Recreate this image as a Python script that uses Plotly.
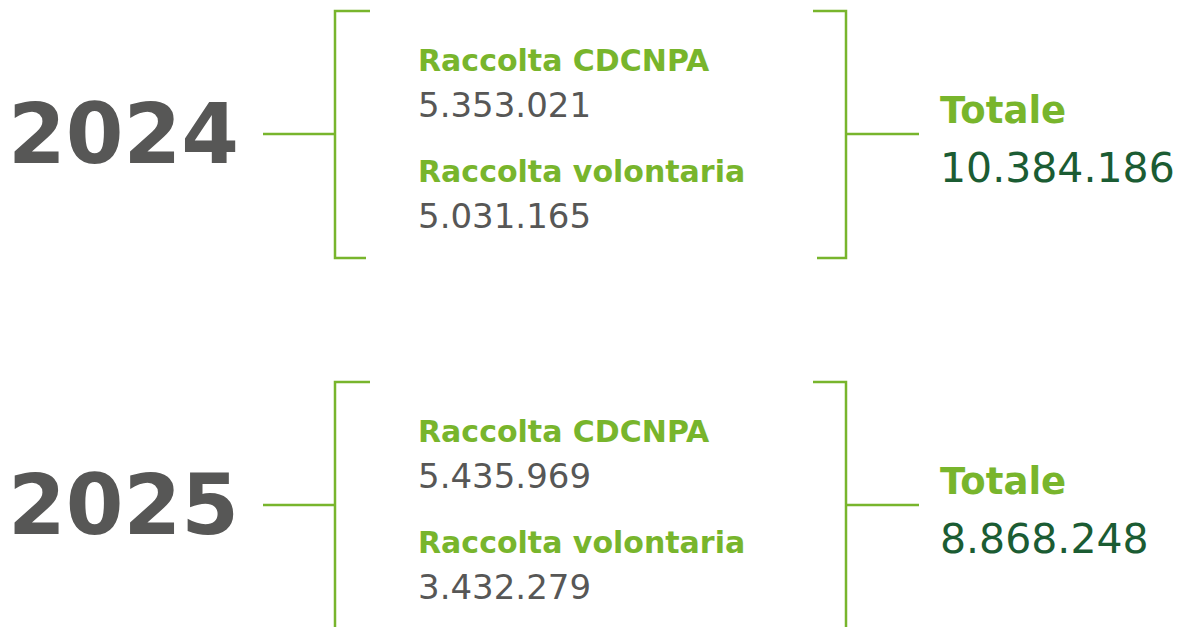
import plotly.graph_objects as go

# data
years = ['2024', '2025']
label_cdcnpa = 'Raccolta CDCNPA'
label_vol = 'Raccolta volontaria'
label_tot = 'Totale'
raccolta_cdcnpa = ['5.353.021', '5.435.969']
raccolta_volontaria = ['5.031.165', '3.432.279']
totale = ['10.384.186', '8.868.248']

green = '#78b52c'
dark_green = '#1b5c33'
grey = '#575756'
font = 'DejaVu Sans'

W, H = 1179, 627
row_top = [0, 371]

fig = go.Figure()
line = dict(color=green, width=2.5)


def label(x, y, text, size, color):
    fig.add_annotation(x=x, y=y, text=text, xanchor='left', yanchor='middle', showarrow=False,
                       font=dict(family=font, size=size, color=color))


for i, year in enumerate(years):
    y0 = row_top[i]
    mid = y0 + 134
    # connector and brackets
    fig.add_shape(type='line', x0=263, x1=335, y0=mid, y1=mid, line=line)
    fig.add_shape(type='path', path=f'M 370 {y0+11} L 335 {y0+11} L 335 {y0+258} L 366 {y0+258}', line=line)
    fig.add_shape(type='path', path=f'M 813 {y0+11} L 846 {y0+11} L 846 {y0+258} L 817 {y0+258}', line=line)
    fig.add_shape(type='line', x0=846, x1=919, y0=mid, y1=mid, line=line)

    label(6, mid, f'<b>{year}</b>', 83, grey)
    label(416, y0 + 60, f'<b>{label_cdcnpa}</b>', 30, green)
    label(416, y0 + 105, raccolta_cdcnpa[i], 34, grey)
    label(416, y0 + 171, f'<b>{label_vol}</b>', 30, green)
    label(416, y0 + 216, raccolta_volontaria[i], 34, grey)
    label(938, y0 + 110, f'<b>{label_tot}</b>', 37, green)
    label(938, y0 + 168, totale[i], 41, dark_green)

fig.update_layout(
    width=W, height=H,
    margin=dict(l=0, r=0, t=0, b=0),
    plot_bgcolor='white', paper_bgcolor='white',
    showlegend=False,
    xaxis=dict(range=[0, W], visible=False, fixedrange=True),
    yaxis=dict(range=[H, 0], visible=False, fixedrange=True),
)

fig.write_html('out.html', config={'displayModeBar': False},
               post_script="document.body.style.margin='0';document.body.style.overflow='hidden';")
